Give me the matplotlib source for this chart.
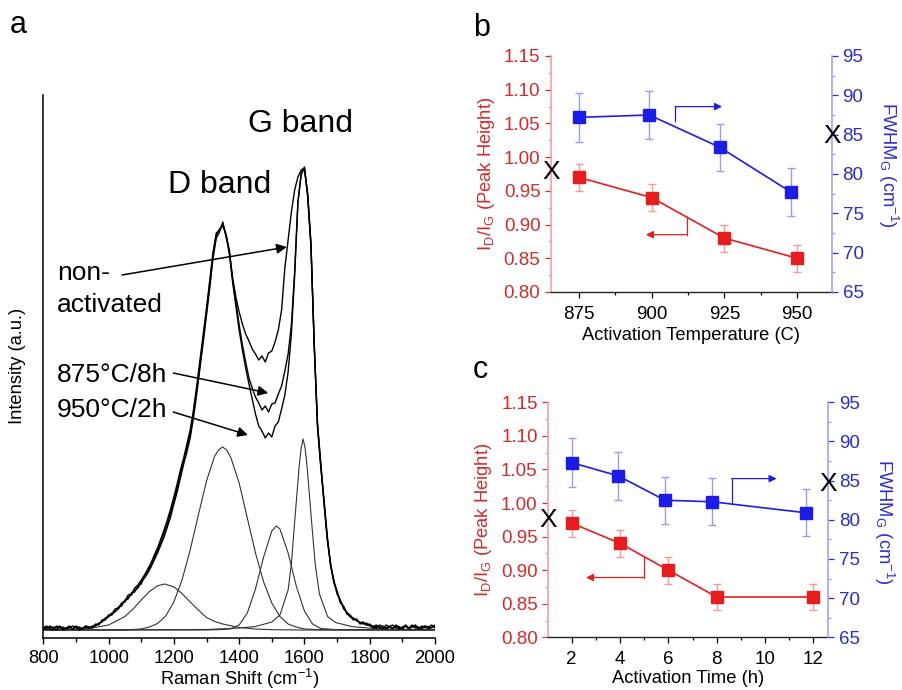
import numpy as np
import matplotlib.pyplot as plt
from matplotlib.ticker import MultipleLocator, FormatStrFormatter

plt.rcParams['font.family'] = ['Liberation Sans', 'DejaVu Sans']
plt.rcParams['mathtext.fontset'] = 'custom'
plt.rcParams['mathtext.rm'] = 'Liberation Sans'
plt.rcParams['mathtext.default'] = 'regular'

RED = '#e81c1c'
RED_TXT = '#d42a2a'
RED_ERR = '#f29a9a'
BLUE = '#1c1ce8'
BLUE_TXT = '#2b2bd0'
BLUE_ERR = '#9a9af2'

# ---- panel a: Raman spectra (intensity in a.u.) ----
shift = np.arange(800, 2001, 10)
non_activated = [3, 1, 4, 2, 0, 3, 1, 2, 4, 1, 3, 0, 2, 4, 2, 3,
                 5, 6, 9, 10, 14, 15, 19, 21, 26, 28, 33, 35, 40, 42,
                 48, 52, 57, 63, 70, 77, 85, 93, 103, 113, 126, 138, 152, 166,
                 178, 192, 212, 236, 262, 288, 315, 342, 372, 392, 398, 408, 393, 380,
                 352, 333, 318, 306, 296, 289, 281, 276, 270, 274, 268, 277, 279, 288,
                 300, 320, 362, 390, 418, 440, 453, 460, 462, 435, 385, 285, 205, 165,
                 128, 92, 66, 49, 38, 29, 23, 17, 15, 11, 10, 7, 8, 5, 6,
                 3, 5, 2, 4, 1, 3, 5, 2, 3, 1, 4, 2, 5, 3, 1, 4, 2, 3, 5, 2]
act_875_8h = [2, 4, 1, 3, 2, 4, 0, 2, 3, 1, 4, 2, 1, 3, 2, 4,
              4, 7, 8, 12, 13, 17, 18, 23, 24, 30, 31, 37, 38, 44,
              46, 54, 58, 66, 72, 80, 88, 97, 106, 117, 129, 142, 156, 169,
              182, 196, 216, 240, 266, 292, 318, 346, 375, 395, 401, 404, 396, 378,
              350, 328, 305, 285, 268, 252, 242, 233, 227, 220, 224, 218, 226, 227,
              236, 244, 259, 276, 305, 358, 428, 455, 463, 433, 383, 287, 203, 163,
              130, 94, 64, 50, 36, 30, 21, 18, 13, 12, 9, 8, 6, 7, 4,
              4, 2, 5, 3, 2, 4, 1, 5, 3, 2, 4, 1, 3, 5, 2, 3, 4, 1, 3, 4]
act_950_2h = [1, 3, 2, 0, 4, 2, 3, 1, 2, 4, 2, 3, 1, 4, 3, 2,
              6, 5, 10, 11, 15, 16, 21, 22, 27, 29, 35, 36, 42, 45,
              50, 55, 61, 67, 75, 82, 91, 100, 110, 121, 133, 146, 160, 172,
              186, 200, 220, 244, 270, 296, 322, 350, 378, 397, 400, 406, 394, 376,
              348, 324, 300, 280, 262, 246, 231, 216, 204, 199, 192, 197, 193, 204,
              208, 221, 235, 258, 296, 354, 427, 457, 461, 436, 387, 283, 207, 167,
              127, 90, 67, 47, 39, 27, 24, 16, 14, 10, 11, 6, 7, 5, 5,
              2, 4, 3, 1, 5, 3, 2, 4, 1, 3, 5, 2, 4, 2, 3, 1, 4, 3, 2, 5]

# fitted component bands
fit1_x = [800, 900, 950, 1000, 1050, 1075, 1100, 1125, 1150, 1172, 1200, 1225,
          1250, 1275, 1300, 1325, 1350, 1400, 1450, 1500, 1600, 2000]
fit1_y = [0, 0.7, 2, 5, 13.5, 21, 30, 38.4, 44.2, 46, 43.1, 36.5,
          28, 20, 12.5, 8.5, 6, 2.5, 1, 0.3, 0, 0]
fit2_x = [800, 1050, 1100, 1125, 1150, 1175, 1200, 1225, 1250, 1275, 1300, 1325,
          1337, 1349, 1362, 1375, 1400, 1425, 1450, 1475, 1500, 1525, 1550,
          1575, 1600, 1650, 2000]
fit2_y = [0, 0, 1, 3, 6.5, 14, 28, 50, 80, 115, 149, 174,
          180, 183, 180, 172, 147, 112, 77, 48, 27, 13.5, 6,
          3, 1, 0.2, 0]
fit3_x = [800, 1300, 1350, 1375, 1400, 1425, 1450, 1475, 1500, 1514, 1525,
          1550, 1575, 1600, 1625, 1650, 1700, 2000]
fit3_y = [0, 0, 0.5, 1.2, 5, 17, 41, 73, 99, 104, 101,
          77, 44, 19, 6, 1.5, 0.3, 0]
fit4_x = [800, 1300, 1400, 1450, 1500, 1525, 1550, 1560, 1571, 1584, 1590, 1596,
          1602, 1608, 1621, 1633, 1646, 1671, 1696, 1746, 1800, 1850, 2000]
fit4_y = [0, 0.5, 2, 3.5, 8, 15, 40, 66, 112, 164, 182, 191,
          182, 164, 112, 66, 36, 13.4, 7.4, 3.4, 1.8, 1, 0.3]

# annotation arrows (text anchor -> arrow tip), in data units of panel a
arrow_na = [(1041, 355), (1546, 383)]
arrow_875 = [(1198, 257), (1489, 237)]
arrow_950 = [(1198, 218), (1427, 195)]

# ---- panel b: activation temperature ----
temp = [875, 900, 925, 950]
idig_temp = [0.97, 0.94, 0.88, 0.85]
idig_temp_err = [0.02, 0.02, 0.02, 0.02]
temp_fw = [875, 899.2, 923.4, 947.9]
fwhm_temp = [87.2, 87.5, 83.4, 77.7]
fwhm_temp_err = [3.1, 3.05, 3.0, 3.0]

# ---- panel c: activation time ----
time_h = [2, 4, 6, 8, 12]
idig_time = [0.97, 0.94, 0.90, 0.86, 0.86]
idig_time_err = [0.02, 0.02, 0.02, 0.02, 0.02]
time_fw = [2, 3.93, 5.86, 7.82, 11.68]
fwhm_time = [87.3, 85.6, 82.5, 82.3, 80.9]
fwhm_time_err = [3.1, 3.05, 3.0, 3.0, 3.0]

W, H = 902, 690
fig = plt.figure(figsize=(W / 100, H / 100), dpi=100)


def px_axes(x0, y0, x1, y1):
    return fig.add_axes([x0 / W, 1 - y1 / H, (x1 - x0) / W, (y1 - y0) / H])


# ================= panel a =================
ax = px_axes(43.3, 95, 435, 637.5)
for fx, fy in [(fit1_x, fit1_y), (fit2_x, fit2_y), (fit3_x, fit3_y), (fit4_x, fit4_y)]:
    ax.plot(fx, fy, color='#333333', lw=0.8)
for spec in [non_activated, act_875_8h, act_950_2h]:
    ax.plot(shift, spec, color='black', lw=1.0)

ax.set_xlim(800, 2000)
ax.set_ylim(-7.5, 535)
ax.set_yticks([])
ax.xaxis.set_major_locator(MultipleLocator(200))
ax.xaxis.set_minor_locator(MultipleLocator(100))
ax.tick_params(axis='x', which='major', length=4.2, width=1.0, labelsize=13.2, pad=4.5)
ax.tick_params(axis='x', which='minor', length=3.0, width=1.0)
for s in ['top', 'right']:
    ax.spines[s].set_visible(False)
for s in ['left', 'bottom']:
    ax.spines[s].set_linewidth(1.1)
ax.set_xlabel('Raman Shift (cm$^{-1}$)', fontsize=13.2, labelpad=0)
ax.text(-0.065, 0.5, 'Intensity (a.u.)', transform=ax.transAxes, rotation=90,
        ha='center', va='center', fontsize=13.2)

ax.text(1427, 498, 'G band', fontsize=23, ha='left', va='baseline')
ax.text(1182, 437, 'D band', fontsize=23, ha='left', va='baseline')
ax.text(842, 350, 'non-', fontsize=19, ha='left', va='baseline')
ax.text(842, 318, 'activated', fontsize=19, ha='left', va='baseline')
ax.text(842, 248, '875°C/8h', fontsize=19, ha='left', va='baseline')
ax.text(842, 213, '950°C/2h', fontsize=19, ha='left', va='baseline')
for start, tip in [arrow_na, arrow_875, arrow_950]:
    ax.annotate('', xy=tip, xytext=start,
                arrowprops=dict(arrowstyle='-|>', color='black', lw=1.1,
                                mutation_scale=15, shrinkA=0, shrinkB=0))

fig.text(10 / W, 1 - 33 / H, 'a', fontsize=22, ha='left', va='baseline')


# ================= panels b, c =================
def dual_panel(ax, x_l, y_l, e_l, x_r, y_r, e_r, xlim, xmajor, xminor, xlabel,
               red_arrow, blue_arrow, x_marks, right_label_y, xlabelpad):
    ax2 = ax.twinx()
    ax.errorbar(x_l, y_l, yerr=e_l, fmt='-s', color=RED, ecolor=RED_ERR,
                elinewidth=1.0, capsize=2.8, capthick=1.0, ms=8.5, lw=1.2,
                mec=RED, mfc=RED, clip_on=False)
    ax2.errorbar(x_r, y_r, yerr=e_r, fmt='-s', color=BLUE, ecolor=BLUE_ERR,
                 elinewidth=1.0, capsize=2.8, capthick=1.0, ms=8.5, lw=1.2,
                 mec=BLUE, mfc=BLUE, clip_on=False)

    ax.set_xlim(*xlim)
    ax.set_ylim(0.80, 1.15)
    ax.set_yticks(np.arange(0.80, 1.1501, 0.05))
    ax.yaxis.set_major_formatter(FormatStrFormatter('%.2f'))
    ax.yaxis.set_minor_locator(MultipleLocator(0.025))
    ax2.set_ylim(65, 95)
    ax2.yaxis.set_major_locator(MultipleLocator(5))
    ax2.yaxis.set_minor_locator(MultipleLocator(2.5))
    ax.xaxis.set_major_locator(MultipleLocator(xmajor))
    ax.xaxis.set_minor_locator(MultipleLocator(xminor))

    ax.tick_params(axis='x', which='major', length=4.3, width=0.9, labelsize=13.5, pad=5.5)
    ax.tick_params(axis='x', which='minor', length=2.4, width=0.9)
    ax.tick_params(axis='y', which='major', length=4.3, width=0.9, labelsize=13.5,
                   pad=3.3, colors=RED_TXT)
    ax.tick_params(axis='y', which='minor', length=2.4, width=0.9, colors=RED_ERR)
    ax2.tick_params(axis='y', which='major', length=4.3, width=0.9, labelsize=13.5,
                    pad=3.3, colors=BLUE_TXT)
    ax2.tick_params(axis='y', which='minor', length=2.4, width=0.9, colors=BLUE_ERR)

    for s in ['top', 'right']:
        ax.spines[s].set_visible(False)
    for s in ['top', 'left', 'bottom']:
        ax2.spines[s].set_visible(False)
    ax.spines['left'].set_color(RED_ERR)
    ax.spines['left'].set_linewidth(1.1)
    ax.spines['bottom'].set_color('#222222')
    ax.spines['bottom'].set_linewidth(1.0)
    ax2.spines['right'].set_color(BLUE_ERR)
    ax2.spines['right'].set_linewidth(1.1)

    ax.set_xlabel(xlabel, fontsize=13.2, labelpad=xlabelpad)
    ax.text(-0.231, 0.5, r'I$_{D}$/I$_{G}$ (Peak Height)', transform=ax.transAxes,
            rotation=90, ha='center', va='center', fontsize=13.2, color=RED_TXT)
    ax2.text(1.2, right_label_y, r'FWHM$_{G}$ (cm$^{-1}$)', transform=ax2.transAxes,
             rotation=-90, ha='center', va='center', fontsize=13.2, color=BLUE_TXT)

    # bracket arrows pointing to the matching axis
    (xv, y0, y1, xt) = red_arrow
    ax.plot([xv, xv], [y0, y1], color=RED, lw=0.9)
    ax.annotate('', xy=(xt, y1), xytext=(xv, y1),
                arrowprops=dict(arrowstyle='-|>', color=RED, lw=0.9,
                                mutation_scale=11, shrinkA=0, shrinkB=0))
    (xv, y0, y1, xt) = blue_arrow
    ax2.plot([xv, xv], [y0, y1], color=BLUE, lw=0.9)
    ax2.annotate('', xy=(xt, y1), xytext=(xv, y1),
                 arrowprops=dict(arrowstyle='-|>', color=BLUE, lw=0.9,
                                 mutation_scale=11, shrinkA=0, shrinkB=0))

    yl, yr = x_marks
    ax.text(0, yl, 'X', transform=ax.get_yaxis_transform(), ha='center',
            va='center', fontsize=19, color='black')
    ax2.text(1, yr, 'X', transform=ax2.get_yaxis_transform(), ha='center',
             va='center', fontsize=19, color='black')
    return ax2


axb = px_axes(551, 56, 832, 292)
dual_panel(axb, temp, idig_temp, idig_temp_err, temp_fw, fwhm_temp, fwhm_temp_err,
           (865.4, 962.0), 25, 12.5, 'Activation Temperature (C)',
           red_arrow=(912.1, 0.911, 0.885, 898.0),
           blue_arrow=(908.1, 86.7, 88.57, 924.2),
           x_marks=(0.978, 84.8), right_label_y=0.54, xlabelpad=3.5)

axc = px_axes(548.3, 402.3, 828.3, 637.3)
dual_panel(axc, time_h, idig_time, idig_time_err, time_fw, fwhm_time, fwhm_time_err,
           (1.03, 12.62), 2, 1, 'Activation Time (h)',
           red_arrow=(5.01, 0.919, 0.889, 2.59),
           blue_arrow=(8.62, 82.0, 85.26, 10.48),
           x_marks=(0.974, 84.6), right_label_y=0.49, xlabelpad=1.5)

fig.text(473 / W, 1 - 36 / H, 'b', fontsize=22, ha='left', va='baseline')
fig.text(473 / W, 1 - 378 / H, 'c', fontsize=22, ha='left', va='baseline')

fig.savefig('out.png', dpi=100)
